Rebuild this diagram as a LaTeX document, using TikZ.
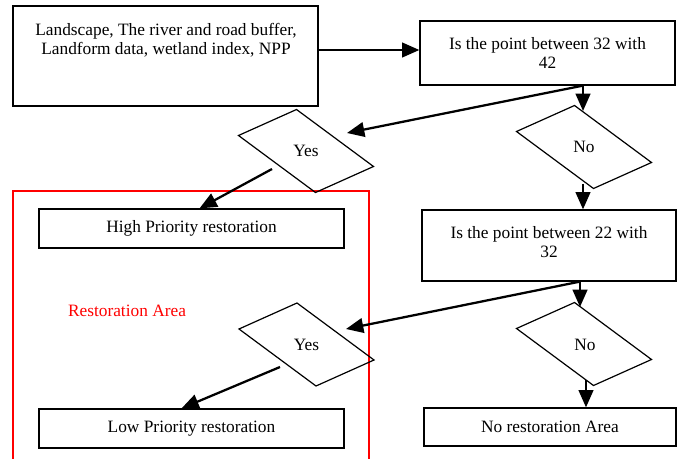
\documentclass[tikz,border=0pt]{standalone}
\usepackage{fontspec}
\setmainfont{Liberation Serif}
\usepackage{tikz}
\usetikzlibrary{arrows.meta}
\usepackage{xcolor}
\tikzstyle{block}=[rectangle, draw, line width=0.9pt, inner sep=2pt, align=center, fill=white]
\tikzstyle{choice}=[inner sep=0pt]
\tikzstyle{link}=[line width=1.7pt, -{Triangle[length=13pt,width=11pt]}]
\newcommand{\block}{\node[block]}
\newcommand{\choice}{\node[choice]}

\begin{document}
\begin{tikzpicture}[x=0.75pt, y=-0.75pt, font=\fontsize{13}{14.25}\selectfont]
\useasboundingbox (0,0) rectangle (681,459);
\draw[red, line width=0.8pt] (13,459) -- (13,191) -- (369,191) -- (369,459);
\node[red] (area) at (127,311) {Restoration Area};

\block (inp) at (165.5,56) [minimum width=228.75pt, minimum height=75pt] {};
\node[align=center] (inptext) at (166,40) {Landscape, The river and road buffer,\\Landform data, wetland index, NPP};
\block (q1) at (547.5,53) [minimum width=191.25pt, minimum height=48pt] {Is the point between 32 with\\42};
\block (q2) at (549,245.5) [minimum width=190.5pt, minimum height=53.25pt, text depth=6pt] {Is the point between 22 with\\32};
\block (high) at (191.5,228.5) [minimum width=228.75pt, minimum height=29.25pt] {High Priority restoration};
\block (low) at (191.5,428.5) [minimum width=228.75pt, minimum height=29.25pt] {Low Priority restoration};
\block (nores) at (550,427) [minimum width=189pt, minimum height=28.5pt] {No restoration Area};

\choice (yes1) at (306,151) {Yes};
\choice (no1) at (584,147) {No};
\choice (yes2) at (306.5,344.5) {Yes};
\choice (no2) at (585,345) {No};
\foreach \c/\s in {yes1/0,no1/0,yes2/0,no2/-1}
  \draw[line width=0.9pt] ([shift={(-67.5+\s,-15.5+\s)}]\c.center) -- ++(58,-26) -- ++(77,57) -- ++(-58,26) -- cycle;

\coordinate (q1in) at ([yshift=2.25pt]q1.west);
\coordinate (no1in) at ([shift={(-1,-36)}]no1.center);
\coordinate (yes1in) at ([shift={(41,-18)}]yes1.center);
\coordinate (yes1out) at ([shift={(-34,18)}]yes1.center);
\coordinate (no1out) at ([shift={(-1,37)}]no1.center);
\coordinate (no2in) at ([shift={(-5,-38)}]no2.center);
\coordinate (yes2in) at ([shift={(39.5,-15.5)}]yes2.center);
\coordinate (yes2out) at ([shift={(-26.5,22.5)}]yes2.center);
\coordinate (no2out) at ([shift={(1,35)}]no2.center);

\draw[link] (inp.east |- q1in) -- (q1in);
\draw[link] (q1.south -| no1in) -- (no1in);
\draw[link] (q1.south -| no1in) -- (yes1in);
\draw[link] (yes1out) -- ([xshift=6pt]high.north);
\draw[link] (no1out) -- (no1out |- q2.north);
\draw[link] (q2.south -| no2in) -- (yes2in);
\draw[link] (q2.south -| no2in) -- (no2in);
\draw[link] (yes2out) -- ([xshift=-7.5pt]low.north);
\draw[link] (no2out) -- (no2out |- nores.north);
\end{tikzpicture}
\end{document}
